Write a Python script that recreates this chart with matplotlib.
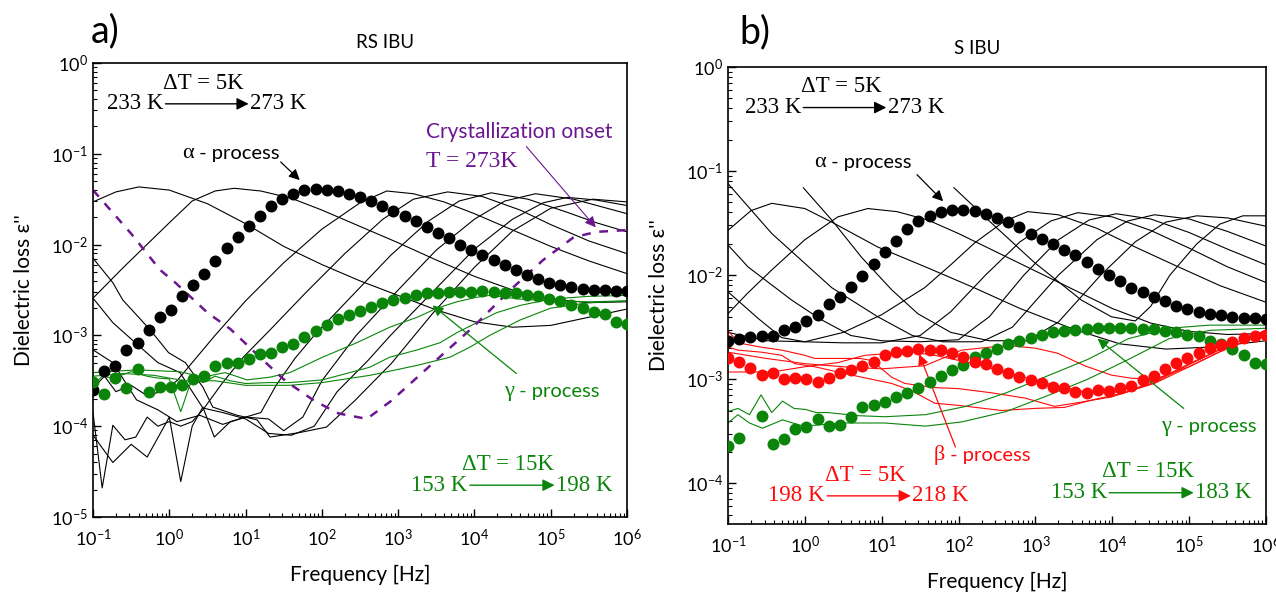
import numpy as np
import matplotlib.pyplot as plt

plt.rcParams['font.family'] = ['Lato', 'DejaVu Sans']
plt.rcParams['mathtext.fontset'] = 'custom'
plt.rcParams['mathtext.rm'] = 'Lato'
SERIF = ['Liberation Serif', 'DejaVu Serif']

GREEN = '#0a850a'
RED = '#ff0a0a'
PURPLE = '#6c1790'

# frequency grid of the highlighted (dotted) spectra
f_dots = np.logspace(-1, 6, 49)

# ---------------- RS IBU (all values are log10 of eps'') ----------------
a_alpha_dots = [-3.60, -3.39, -3.34, -3.16, -3.08, -2.94, -2.80, -2.72, -2.57, -2.45,
                -2.32, -2.18, -2.04, -1.92, -1.79, -1.68, -1.58, -1.50, -1.44, -1.40,
                -1.39, -1.395, -1.41, -1.44, -1.48, -1.52, -1.57, -1.63, -1.69, -1.74,
                -1.81, -1.87, -1.93, -2.00, -2.06, -2.12, -2.17, -2.23, -2.28, -2.33,
                -2.38, -2.42, -2.45, -2.47, -2.49, -2.50, -2.50, -2.51, -2.51]
a_gamma_dots = [-3.51, -3.65, -3.47, -3.58, -3.37, -3.62, -3.57, -3.57, -3.55, -3.48,
                -3.45, -3.34, -3.30, -3.30, -3.26, -3.20, -3.19, -3.13, -3.09, -3.02,
                -2.95, -2.89, -2.82, -2.78, -2.73, -2.69, -2.64, -2.61, -2.59, -2.56,
                -2.53, -2.53, -2.52, -2.52, -2.52, -2.51, -2.52, -2.53, -2.53, -2.56,
                -2.57, -2.60, -2.62, -2.66, -2.70, -2.74, -2.77, -2.85, -2.87]

# (log10 f, log10 eps'') pairs for the thin spectra
a_233 = [(-1, -1.53), (-0.7, -1.42), (-0.4, -1.365), (0, -1.40), (0.5, -1.55), (1, -1.77),
         (1.5, -2.02), (2, -2.22), (2.5, -2.40), (3, -2.56), (3.5, -2.72), (4, -2.85),
         (4.5, -2.91), (5, -2.89), (5.5, -2.80), (6, -2.71)]
a_238 = [(-1, -2.59), (-0.6, -2.25), (0, -1.76), (0.3, -1.52), (0.6, -1.41), (0.85, -1.38),
         (1.2, -1.41), (1.6, -1.49), (2, -1.62), (2.5, -1.80), (3, -1.98), (3.5, -2.17),
         (4, -2.35), (4.5, -2.50), (5, -2.60), (5.5, -2.64), (6, -2.63)]
a_248 = [(-1, -3.58), (-0.85, -3.45), (-0.7, -3.62), (-0.5, -3.55), (-0.3, -3.66), (-0.1, -3.62),
         (0.1, -3.50), (0.3, -3.30), (0.6, -3.00), (1, -2.62), (1.5, -2.20), (2, -1.83),
         (2.5, -1.54), (2.85, -1.41), (3.2, -1.44), (3.6, -1.53), (4, -1.66), (4.5, -1.84),
         (5, -2.02), (5.5, -2.18), (6, -2.32)]
a_253 = [(-1, -3.85), (-0.88, -4.68), (-0.74, -3.99), (-0.58, -4.15), (-0.44, -4.12),
         (-0.29, -3.90), (-0.15, -4.00), (0, -3.95), (0.15, -4.00), (0.3, -3.95), (0.44, -3.82),
         (0.7, -3.52), (0.97, -3.24), (1.32, -2.94), (1.8, -2.52), (2.3, -2.10), (2.8, -1.72),
         (3.2, -1.50), (3.65, -1.42), (4.1, -1.47), (4.6, -1.62), (5, -1.78), (5.5, -1.96),
         (6, -2.10)]
a_258 = [(-1, -4.10), (-0.74, -4.40), (-0.5, -4.20), (-0.29, -4.34), (0, -3.90), (0.15, -4.61),
         (0.3, -4.00), (0.44, -3.79), (0.59, -4.12), (0.8, -3.95), (1.0, -3.90), (1.2, -3.85),
         (1.4, -3.55), (1.65, -3.25), (1.9, -3.00), (2.4, -2.56), (2.9, -2.12), (3.4, -1.74),
         (3.8, -1.52), (4.22, -1.43), (4.7, -1.50), (5.2, -1.64), (5.6, -1.76), (6, -1.86)]
a_263 = [(-1, -3.16), (-0.74, -3.30), (-0.43, -3.71), (-0.15, -3.82), (0.1, -3.95), (0.4, -3.88),
         (0.7, -3.98), (1.0, -3.90), (1.3, -3.92), (1.5, -4.05), (1.75, -3.90), (2.0, -3.50),
         (2.45, -3.00), (3, -2.50), (3.5, -2.06), (4, -1.72), (4.4, -1.52), (4.8, -1.44),
         (5.3, -1.50), (6, -1.66)]
a_268 = [(-1, -2.59), (-0.74, -2.86), (-0.42, -3.10), (-0.15, -3.30), (0.14, -3.41),
         (0.44, -3.80), (0.7, -3.85), (1.0, -3.92), (1.3, -4.08), (1.6, -4.10), (1.9, -4.00),
         (2.2, -3.62), (2.6, -3.28), (2.9, -3.00), (3.5, -2.48), (4, -2.05), (4.5, -1.72),
         (4.9, -1.54), (5.22, -1.48), (5.6, -1.51), (6, -1.57)]
a_273 = [(-1, -2.15), (-0.74, -2.42), (-0.61, -2.61), (-0.25, -2.94), (-0.01, -3.19),
         (0.21, -3.30), (0.44, -3.57), (0.57, -3.79), (0.89, -3.88), (1.15, -3.93), (1.32, -4.12),
         (1.71, -4.07), (2.06, -4.01), (2.43, -3.72), (2.91, -3.31), (3.45, -2.76), (4, -2.25),
         (4.5, -1.85), (5, -1.60), (5.55, -1.50), (6, -1.53)]
a_black = [a_233, a_238, a_248, a_253, a_258, a_263, a_268, a_273]

a_g1 = [(-1, -3.41), (-0.43, -3.38), (0.14, -3.40), (0.44, -3.46), (0.73, -3.41), (1.02, -3.49),
        (1.32, -3.46), (1.58, -3.41), (2.01, -3.24), (2.46, -3.08), (2.89, -2.91), (3.25, -2.80),
        (3.51, -2.70), (3.77, -2.63), (4.03, -2.58), (4.2, -2.56), (4.6, -2.60), (5, -2.62),
        (5.5, -2.63), (6, -2.62)]
a_g2 = [(-1, -3.55), (-0.88, -3.45), (-0.74, -3.47), (-0.5, -3.40), (-0.29, -3.45),
        (-0.15, -3.47), (0, -3.48), (0.15, -3.84), (0.3, -3.47), (0.44, -3.52), (0.6, -3.45),
        (0.8, -3.50), (1.0, -3.53), (1.3, -3.52), (1.58, -3.52), (2.01, -3.49), (2.63, -3.35),
        (2.89, -3.24), (3.25, -3.16), (3.55, -3.08), (3.77, -2.97), (4.03, -2.86), (4.29, -2.75),
        (4.6, -2.67), (5, -2.60), (5.5, -2.57), (6, -2.56)]
a_g3 = [(-1, -3.45), (-0.6, -3.42), (-0.2, -3.44), (0.2, -3.50), (0.6, -3.50), (1.0, -3.55),
        (1.3, -3.55), (1.58, -3.55), (2.0, -3.52), (2.63, -3.44), (3.25, -3.33), (3.68, -3.24),
        (3.94, -3.13), (4.2, -3.00), (4.6, -2.83), (5, -2.70), (5.5, -2.64), (6, -2.62)]
a_green = [a_g1, a_g2, a_g3]

a_cryst = [(-1, -1.40), (-0.5, -1.88), (-0.12, -2.28), (0.08, -2.42), (0.5, -2.75), (0.8, -2.93),
           (1.2, -3.25), (1.52, -3.50), (1.9, -3.72), (2.22, -3.86), (2.59, -3.92), (2.91, -3.72),
           (3.45, -3.31), (3.98, -2.91), (4.47, -2.50), (4.9, -2.17), (5.3, -1.92), (5.6, -1.86),
           (6, -1.84)]

# ---------------- S IBU ----------------
b_alpha_dots = [-2.63, -2.61, -2.59, -2.58, -2.58, -2.53, -2.50, -2.44, -2.38, -2.28,
                -2.21, -2.11, -2.01, -1.89, -1.78, -1.67, -1.56, -1.48, -1.43, -1.39,
                -1.37, -1.37, -1.385, -1.41, -1.45, -1.49, -1.54, -1.60, -1.65, -1.70,
                -1.76, -1.81, -1.875, -1.94, -2.00, -2.06, -2.12, -2.165, -2.205, -2.25,
                -2.295, -2.325, -2.35, -2.37, -2.38, -2.40, -2.41, -2.415, -2.42]
b_beta_dots = [-2.80, -2.83, -2.89, -2.96, -2.94, -3.00, -2.99, -3.00, -3.03, -2.99,
               -2.94, -2.91, -2.87, -2.83, -2.77, -2.74, -2.73, -2.71, -2.72, -2.72,
               -2.75, -2.79, -2.83, -2.85, -2.90, -2.94, -2.98, -3.01, -3.04, -3.07,
               -3.08, -3.12, -3.13, -3.10, -3.11, -3.08, -3.06, -3.01, -2.97, -2.90,
               -2.84, -2.80, -2.75, -2.70, -2.67, -2.64, -2.60, -2.58, -2.57]
b_gamma_dots = [-3.64, -3.56, np.nan, -3.35, -3.62, -3.57, -3.48, -3.46, -3.38, -3.45,
                -3.44, -3.36, -3.27, -3.25, -3.22, -3.17, -3.13, -3.08, -3.03, -2.97,
                -2.91, -2.86, -2.79, -2.75, -2.71, -2.66, -2.63, -2.60, -2.57, -2.55,
                -2.54, -2.53, -2.52, -2.51, -2.51, -2.51, -2.51, -2.52, -2.52, -2.535,
                -2.545, -2.57, -2.585, -2.63, -2.66, -2.71, -2.77, -2.84, -2.85]

b_233 = [(-1, -1.57), (-0.7, -1.38), (-0.43, -1.31), (0, -1.36), (0.35, -1.49), (0.95, -1.73),
         (1.6, -1.93), (2.2, -2.12), (2.8, -2.32), (3.5, -2.52), (4.1, -2.66), (4.7, -2.71),
         (5.3, -2.69), (6, -2.63)]
b_238 = [(-1, -2.37), (-0.74, -2.17), (-0.43, -1.95), (0, -1.66), (0.43, -1.44), (0.82, -1.36),
         (1.2, -1.39), (1.6, -1.47), (2, -1.60), (2.5, -1.78), (3, -1.96), (3.5, -2.14),
         (4, -2.32), (4.5, -2.46), (5, -2.54), (5.5, -2.57), (6, -2.56)]
b_248 = [(-1, -2.55), (-0.5, -2.63), (0, -2.64), (0.5, -2.55), (1.0, -2.38), (1.56, -2.12),
         (1.9, -1.90), (2.21, -1.69), (2.6, -1.48), (2.9, -1.39), (3.3, -1.42), (3.8, -1.55),
         (4.3, -1.73), (4.8, -1.90), (5.4, -2.10), (6, -2.26)]
b_253 = [(-1, -2.16), (-0.6, -2.42), (-0.3, -2.60), (0, -2.64), (0.5, -2.65), (1.0, -2.65),
         (1.5, -2.58), (1.9, -2.35), (2.35, -2.00), (2.8, -1.68), (3.2, -1.48), (3.55, -1.40),
         (4, -1.44), (4.5, -1.57), (5, -1.74), (5.5, -1.92), (6, -2.07)]
b_258 = [(-1, -1.71), (-0.74, -1.92), (-0.17, -2.24), (0.22, -2.43), (0.6, -2.58), (1.0, -2.63),
         (1.5, -2.64), (2.0, -2.62), (2.4, -2.40), (2.85, -2.00), (3.3, -1.66), (3.7, -1.47),
         (4.05, -1.41), (4.5, -1.46), (5, -1.59), (5.5, -1.75), (6, -1.90)]
b_263 = [(-1, -1.12), (-0.43, -1.60), (0.35, -2.12), (0.95, -2.40), (1.4, -2.58), (1.8, -2.64),
         (2.3, -2.64), (2.7, -2.50), (3.3, -2.00), (3.8, -1.66), (4.2, -1.48), (4.55, -1.42),
         (5, -1.46), (5.5, -1.58), (6, -1.72)]
b_268 = [(-0.02, -1.16), (0.35, -1.47), (0.74, -1.83), (1.13, -2.14), (1.47, -2.37), (1.9, -2.55),
         (2.4, -2.63), (2.9, -2.63), (3.3, -2.45), (3.85, -2.00), (4.3, -1.68), (4.7, -1.49),
         (5.1, -1.43), (5.5, -1.45), (6, -1.53)]
b_273 = [(1.94, -1.16), (2.43, -1.50), (2.99, -1.88), (3.6, -2.24), (3.99, -2.40), (4.3, -2.44),
         (4.5, -2.30), (4.75, -2.00), (5.1, -1.70), (5.4, -1.51), (5.7, -1.43), (6, -1.43)]
b_black = [b_233, b_238, b_248, b_253, b_258, b_263, b_268, b_273]

b_r1 = [(-1, -2.53), (-0.87, -2.65), (-0.58, -2.69), (-0.3, -2.72), (0, -2.77), (0.13, -2.80),
        (0.43, -2.80), (0.72, -2.80), (0.87, -2.82), (1.13, -2.98), (1.3, -3.04), (1.69, -3.08),
        (2.0, -3.09), (2.43, -3.13), (2.86, -3.18), (3.25, -3.26), (3.51, -3.23), (3.99, -3.17),
        (4.33, -3.09), (4.55, -3.04), (5, -2.88), (5.5, -2.70), (6, -2.55)]
b_r2 = [(-1, -2.69), (-0.87, -2.72), (-0.56, -2.74), (-0.3, -2.77), (-0.13, -2.85), (0.13, -2.88),
        (0.43, -2.93), (0.74, -2.98), (1.13, -3.04), (1.39, -3.11), (1.69, -3.23), (1.99, -3.25),
        (2.56, -3.30), (2.99, -3.28), (3.38, -3.27), (3.73, -3.20), (4.16, -3.13), (4.55, -3.03),
        (5, -2.86), (5.5, -2.68), (6, -2.53)]
b_r3 = [(-1, -2.93), (-0.74, -2.93), (-0.43, -2.93), (0, -2.88), (0.43, -2.84), (0.78, -2.77),
        (1.13, -2.75), (1.39, -2.74), (1.69, -2.77), (2.2, -2.85), (2.7, -2.95), (3.2, -3.05),
        (3.7, -3.13), (4.2, -3.12), (4.6, -3.00), (5, -2.85), (5.5, -2.68), (6, -2.53)]
b_r4 = [(-1, -2.74), (-0.5, -2.80), (0, -2.85), (0.5, -2.88), (1.0, -2.90), (1.56, -2.87),
        (1.82, -2.79), (2.04, -2.72), (2.43, -2.69), (2.69, -2.68), (2.99, -2.70), (3.29, -2.75),
        (3.64, -2.87), (3.99, -2.96), (4.25, -2.99), (4.55, -3.00), (5, -2.88), (5.5, -2.70),
        (6, -2.56)]
b_red = [b_r1, b_r2, b_r3, b_r4]

b_g1 = [(-1, -3.31), (-0.87, -3.28), (-0.72, -3.34), (-0.57, -3.15), (-0.43, -3.32),
        (-0.29, -3.21), (-0.14, -3.28), (0.01, -3.29), (0.15, -3.32), (0.3, -3.32), (0.7, -3.35),
        (1.04, -3.36), (1.57, -3.34), (2.1, -3.26), (2.62, -3.13), (3.15, -2.97), (3.68, -2.81),
        (4.21, -2.61), (4.74, -2.51), (5.27, -2.48), (6, -2.48)]
b_g2 = [(-1, -3.42), (-0.87, -3.34), (-0.72, -3.42), (-0.55, -3.47), (-0.29, -3.39),
        (-0.02, -3.45), (0.51, -3.42), (1.04, -3.42), (1.57, -3.45), (2.04, -3.41), (2.62, -3.31),
        (3.15, -3.16), (3.68, -3.00), (4.21, -2.81), (4.74, -2.61), (5.27, -2.53), (6, -2.51)]
b_green = [b_g1, b_g2]


def P(lf, le):
    return 10.0 ** lf, 10.0 ** le


def line(ax, pts, **kw):
    lf, le = np.array(pts, dtype=float).T
    ax.plot(10.0 ** lf, 10.0 ** le, **kw)


def dots(ax, vals, color):
    ax.plot(f_dots, 10.0 ** np.array(vals, dtype=float), 'o', color=color, ms=8.6,
            mec='none', zorder=5)


def arrow(ax, tail, head, color, lw=0.9, ms=16):
    ax.annotate('', xy=P(*head), xytext=P(*tail),
                arrowprops=dict(arrowstyle='-|>', color=color, lw=lw, shrinkA=0, shrinkB=0,
                                mutation_scale=ms))


def process_label(ax, lf, le, greek, color):
    ax.text(*P(lf, le), greek, family=SERIF, fontsize=16, color=color, ha='right', va='center')
    ax.text(*P(lf, le), ' - process', fontsize=14.5, color=color, ha='left', va='center')


def temp_range(ax, lf0, lf1, le, t0, t1, dt, color):
    ax.text(*P(lf0 - 0.03, le), t0, family=SERIF, fontsize=16.5, color=color,
            ha='right', va='center')
    arrow(ax, (lf0, le), (lf1, le), color, lw=1.0, ms=18)
    ax.text(*P(lf1 + 0.02, le), t1, family=SERIF, fontsize=16.5, color=color,
            ha='left', va='center')
    ax.annotate(dt, xy=P((lf0 + lf1) / 2 - 0.05, le), xytext=(0, 15),
                textcoords='offset points', family=SERIF, fontsize=16.5, color=color,
                ha='center', va='center')


def style(ax, ylow):
    ax.set_xscale('log')
    ax.set_yscale('log')
    ax.set_xlim(0.1, 1e6)
    ax.set_ylim(ylow, 1)
    ax.set_xticks([10.0 ** k for k in range(-1, 7)])
    ax.tick_params(which='both', direction='in', top=False, right=False, labelsize=13)
    ax.tick_params(which='major', length=6, width=1)
    ax.tick_params(which='minor', length=3, width=0.8)
    ax.tick_params(axis='x', pad=8)
    for s in ax.spines.values():
        s.set_linewidth(1.2)
    ax.set_xlabel('Frequency [Hz]', fontsize=15, labelpad=11)
    ax.set_ylabel("Dielectric loss ε''", fontsize=15, labelpad=12)


fig = plt.figure(figsize=(12.76, 5.93), dpi=100)
ax1 = fig.add_axes([0.0729, 0.1282, 0.4185, 0.7656])
ax2 = fig.add_axes([0.5705, 0.1164, 0.4216, 0.7707])

# ---- panel a ----
for c in a_black:
    line(ax1, c, color='black', lw=0.8)
for c in a_green:
    line(ax1, c, color=GREEN, lw=0.8)
line(ax1, a_cryst, color=PURPLE, lw=1.8, ls=(0, (3.5, 3.5)))
dots(ax1, a_alpha_dots, 'black')
dots(ax1, a_gamma_dots, GREEN)
style(ax1, 1e-5)

temp_range(ax1, -0.05, 1.04, -0.45, '233 K', '273 K', 'ΔT = 5K', 'black')
process_label(ax1, 0.32, -1.0, 'α', 'black')
arrow(ax1, (1.46, -1.09), (1.71, -1.29), 'black')
ax1.text(*P(3.37, -0.76), 'Crystallization onset', fontsize=15, color=PURPLE,
         ha='left', va='center')
ax1.text(*P(3.37, -1.09), 'T = 273K', family=SERIF, fontsize=17, color=PURPLE,
         ha='left', va='center')
arrow(ax1, (4.68, -0.92), (5.59, -1.81), PURPLE, lw=0.8)
process_label(ax1, 4.52, -3.62, 'γ', GREEN)
arrow(ax1, (4.55, -3.42), (3.45, -2.67), GREEN, lw=0.9)
temp_range(ax1, 3.94, 5.05, -4.65, '153 K', '198 K', 'ΔT = 15K', GREEN)
ax1.text(-0.005, 1.07, 'a)', transform=ax1.transAxes, fontsize=27, ha='left', va='center')
ax1.text(0.547, 1.046, 'RS IBU', transform=ax1.transAxes, fontsize=13.5, ha='center',
         va='center')

# ---- panel b ----
for c in b_black:
    line(ax2, c, color='black', lw=0.8)
for c in b_red:
    line(ax2, c, color=RED, lw=0.8)
for c in b_green:
    line(ax2, c, color=GREEN, lw=0.8)
dots(ax2, b_alpha_dots, 'black')
dots(ax2, b_gamma_dots, GREEN)
dots(ax2, b_beta_dots, RED)
style(ax2, 10 ** -4.39)

temp_range(ax2, -0.02, 1.06, -0.39, '233 K', '273 K', 'ΔT = 5K', 'black')
process_label(ax2, 0.27, -0.92, 'α', 'black')
arrow(ax2, (1.46, -1.035), (1.80, -1.29), 'black')
process_label(ax2, 1.82, -3.73, 'β', RED)
arrow(ax2, (1.96, -3.65), (1.49, -2.76), RED, lw=0.9)
process_label(ax2, 4.77, -3.45, 'γ', GREEN)
arrow(ax2, (4.93, -3.28), (3.81, -2.61), GREEN, lw=0.9)
temp_range(ax2, 0.29, 1.38, -4.12, '198 K', '218 K', 'ΔT = 5K', RED)
temp_range(ax2, 3.96, 5.06, -4.09, '153 K', '183 K', 'ΔT = 15K', GREEN)
ax2.text(0.022, 1.075, 'b)', transform=ax2.transAxes, fontsize=27, ha='left', va='center')
ax2.text(0.463, 1.04, 'S IBU', transform=ax2.transAxes, fontsize=13.5, ha='center',
         va='center')

fig.savefig('out.png', dpi=100)
